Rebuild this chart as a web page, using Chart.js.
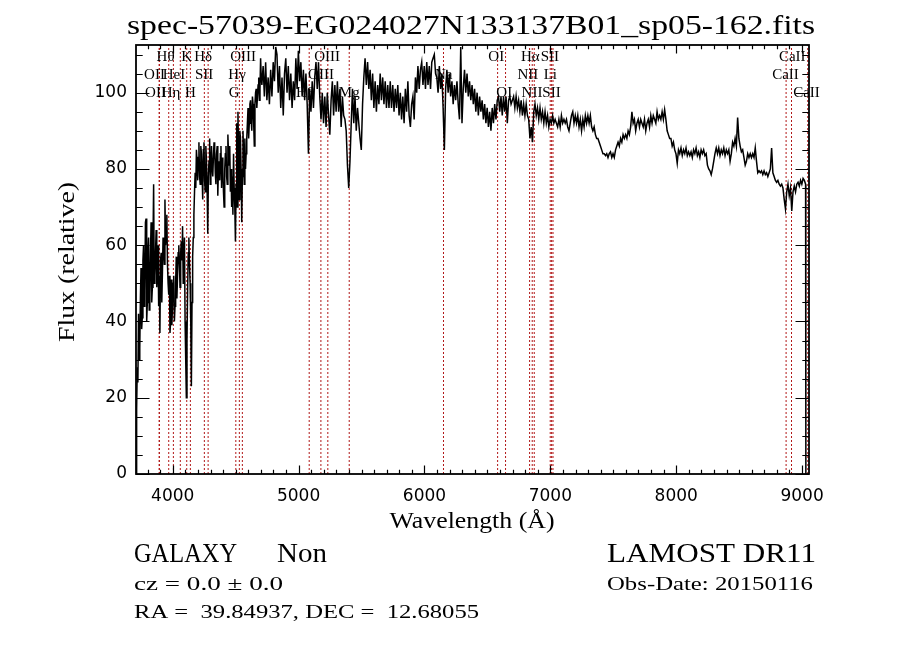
<!DOCTYPE html>
<html>
<head>
<meta charset="utf-8">
<title>spec-57039-EG024027N133137B01_sp05-162</title>
<script src="https://cdn.jsdelivr.net/npm/chart.js"></script>
<style>
  html, body { margin: 0; padding: 0; background: #fff; }
  #wrap { width: 900px; height: 649px; }
</style>
</head>
<body>
<div id="wrap"><canvas id="specChart" width="900" height="649"></canvas></div>
<script>
// wavelength grid (Angstrom): 5 A steps in the noisy blue end, 10 A after
const wavelength = [
  3708,3713,3718,3723,3728,3733,3738,3743,3748,3753,3758,3763,3768,3773,3778,3783,3788,3793,3798,3803,
  3808,3813,3818,3823,3828,3833,3838,3843,3848,3853,3858,3863,3868,3873,3878,3883,3888,3893,3898,3903,
  3908,3913,3918,3923,3928,3933,3938,3943,3948,3953,3958,3963,3968,3973,3978,3983,3988,3993,3998,4003,
  4008,4013,4018,4023,4028,4033,4038,4043,4048,4053,4058,4063,4068,4073,4078,4083,4088,4093,4098,4103,
  4108,4113,4118,4123,4128,4133,4138,4143,4148,4153,4158,4163,4168,4173,4178,4183,4188,4193,4198,4203,
  4208,4213,4218,4223,4228,4233,4238,4243,4248,4253,4258,4263,4268,4273,4278,4283,4288,4293,4298,4303,
  4308,4313,4318,4323,4328,4333,4338,4343,4348,4353,4358,4363,4368,4373,4378,4383,4388,4393,4398,4403,
  4408,4413,4418,4423,4428,4433,4438,4443,4448,4453,4458,4463,4468,4473,4478,4483,4488,4493,4498,4503,
  4508,4513,4518,4523,4528,4533,4538,4543,4548,4553,4558,4563,4568,4573,4578,4583,4588,4593,4598,4603,
  4608,4613,4618,4623,4628,4633,4638,4643,4648,4653,4658,4663,4668,4673,4678,4683,4688,4693,4698,4703,
  4708,4718,4728,4738,4748,4758,4768,4778,4788,4798,
  4808,4818,4828,4838,4848,4858,4868,4878,4888,4898,
  4908,4918,4928,4938,4948,4958,4968,4978,4988,4998,
  5008,5018,5028,5038,5048,5058,5068,5078,5088,5098,
  5108,5118,5128,5138,5148,5158,5168,5178,5188,5198,
  5208,5218,5228,5238,5248,5258,5268,5278,5288,5298,
  5308,5318,5328,5338,5348,5358,5368,5378,5388,5398,
  5408,5418,5428,5438,5448,5458,5468,5478,5488,5498,
  5508,5518,5528,5538,5548,5558,5568,5578,5588,5598,
  5608,5618,5628,5638,5648,5658,5668,5678,5688,5698,
  5708,5718,5728,5738,5748,5758,5768,5778,5788,5798,
  5808,5818,5828,5838,5848,5858,5868,5878,5888,5898,
  5908,5918,5928,5938,5948,5958,5968,5978,5988,5998,
  6008,6018,6028,6038,6048,6058,6068,6078,6088,6098,
  6108,6118,6128,6138,6148,6158,6168,6178,6188,6198,
  6208,6218,6228,6238,6248,6258,6268,6278,6288,6298,
  6308,6318,6328,6338,6348,6358,6368,6378,6388,6398,
  6408,6418,6428,6438,6448,6458,6468,6478,6488,6498,
  6508,6518,6528,6538,6548,6558,6568,6578,6588,6598,
  6608,6618,6628,6638,6648,6658,6668,6678,6688,6698,
  6708,6718,6728,6738,6748,6758,6768,6778,6788,6798,
  6808,6818,6828,6838,6848,6858,6868,6878,6888,6898,
  6908,6918,6928,6938,6948,6958,6968,6978,6988,6998,
  7008,7018,7028,7038,7048,7058,7068,7078,7088,7098,
  7108,7118,7128,7138,7148,7158,7168,7178,7188,7198,
  7208,7218,7228,7238,7248,7258,7268,7278,7288,7298,
  7308,7318,7328,7338,7348,7358,7368,7378,7388,7398,
  7408,7418,7428,7438,7448,7458,7468,7478,7488,7498,
  7508,7518,7528,7538,7548,7558,7568,7578,7588,7598,
  7608,7618,7628,7638,7648,7658,7668,7678,7688,7698,
  7708,7718,7728,7738,7748,7758,7768,7778,7788,7798,
  7808,7818,7828,7838,7848,7858,7868,7878,7888,7898,
  7908,7918,7928,7938,7948,7958,7968,7978,7988,7998,
  8008,8018,8028,8038,8048,8058,8068,8078,8088,8098,
  8108,8118,8128,8138,8148,8158,8168,8178,8188,8198,
  8208,8218,8228,8238,8248,8258,8268,8278,8288,8298,
  8308,8318,8328,8338,8348,8358,8368,8378,8388,8398,
  8408,8418,8428,8438,8448,8458,8468,8478,8488,8498,
  8508,8518,8528,8538,8548,8558,8568,8578,8588,8598,
  8608,8618,8628,8638,8648,8658,8668,8678,8688,8698,
  8708,8718,8728,8738,8748,8758,8768,8778,8788,8798,
  8808,8818,8828,8838,8848,8858,8868,8878,8888,8898,
  8908,8918,8928,8938,8948,8958,8968,8978,8988,8998,
  9008,9018,9028,9030
];

// relative flux, same order as wavelength
const flux = [
  0,17,28,24,42,30,33,46,54,38,41,56,60,44,48,66,67,40,45,58,
  62,43,47,58,66,45,49,60,76,50,52,58,64,49,53,60,44,52,37,56,
  58,45,53,62,60,55,72,60,64,68,55,50,47,52,37,40,51,39,44,50,
  52,40,44,50,57,46,52,58,60,55,49,58,61,56,65,50,57,62,40,30,
  20,35,48,58,62,55,50,40,23,45,57,62,68,74,79,75,85,82,77,83,
  87,78,76,86,84,79,72,85,87,77,74,86,82,75,63,78,82,88,76,80,
  86,80,78,83,87,85,79,76,84,86,73,80,82,77,84,86,75,83,80,74,
  70,80,84,86,78,76,89,84,81,86,74,80,70,78,68,84,75,70,61,76,
  92,70,95,84,72,90,88,80,66,78,90,84,76,88,80,84,88,92,96,88,
  92,97,98,93,90,99,97,92,86,97,100,101,96,99,102,104,98,101,109,104,
  102,107,99,108,98,104,97,106,99,108,
  103,112,110,100,107,96,104,94,105,109,
  100,107,98,105,96,103,98,109,101,111,
  103,108,99,106,98,105,97,84,101,95,
  103,96,104,108,101,108,99,93,100,92,
  99,91,100,94,89,98,103,94,102,95,
  103,95,101,91,99,94,93,90,81,75,
  82,92,101,92,99,90,96,92,88,85,
  97,104,109,102,108,101,106,98,105,96,
  103,95,102,97,105,98,104,97,103,96,
  102,96,103,96,102,95,101,96,102,94,
  100,93,99,92,101,95,103,94,91,97,
  99,93,104,100,107,101,106,108,102,107,
  101,108,102,107,101,108,109,110,105,104,
  100,107,101,105,96,85,101,106,100,105,
  99,103,97,102,98,103,97,93,112,92,
  101,106,100,105,99,103,98,102,97,101,
  95,100,94,99,95,98,93,97,92,96,
  91,95,90,96,92,97,93,98,99,95,
  99,94,99,95,99,92,98,99,97,98,
  99,96,99,96,98,95,98,94,97,94,
  97,94,93,88,91,87,95,97,94,96,
  93,96,93,95,92,95,92,94,91,93,
  92,94,92,93,92,91,93,91,94,92,
  93,92,93,91,90,92,94,95,92,94,
  92,94,91,93,90,93,91,94,92,94,
  92,94,91,90,91,89,88,88,87,86,
  85,84,84,83.5,84,83,84,84.5,83,84,
  83,85,86,87,86,88,87,89,88,89,
  88,90,89,91,95,92,93,90,92,93,
  91,93,92,91,93,90,92,93,91,94,
  92,94,93,92,95,93,94,93,95,93,
  95.5,93,90,89,88,88,86,87,85,84,
  81.5,85,84,85.5,83.5,85,84,85.5,83.5,84.5,
  83.5,84.5,83,85,84,85.5,83.5,84.5,83,85,
  84,85,83.5,84,81,80,79.5,78.5,80,82,
  84,85.5,84,85.5,83.5,85,84,85.5,83.5,85,
  84,85,82,84,87,86,88,86,93.5,88,
  86,84.5,85,83,81,82,84,83,84,83,
  84,83,85.5,82,79,79.5,79,79.5,78.5,79.5,
  78.5,79,78,79,80,85.5,79,78,77,76.5,
  77,76,75.5,76,75,72,69.5,74,76,73,
  75,69,74,75.5,74,76,76.5,75.5,77,76,
  77.5,77,76,0
];

// marked spectral lines (observed position, Angstrom)
const lineWave = [3892, 3894, 3968, 4005, 4060, 4111, 4140, 4251, 4281, 4501, 4529, 4553,
                  5084, 5177, 5232, 5402, 6151, 6581, 6644, 6835, 6856, 6872, 6999, 7010, 7021,
                  8873, 8916, 9045];

// line labels: text, centre wavelength, row (0 = top)
const labelText = ['Hθ', 'K', 'Hδ', 'OIII', 'OIII', 'OI', 'Hα', 'SII', 'CaII',
                   'OII', 'HeI', 'SII', 'Hγ', 'OIII', 'Na', 'NII', 'Li', 'CaII',
                   'OII', 'Hη', 'H', 'G', 'Hβ', 'Mg', 'OI', 'NII', 'SII', 'CaII'];
const labelWave = [3943, 4110, 4241, 4559, 5227, 6570, 6841, 6996, 8922,
                   3855, 4010, 4249, 4511, 5178, 6153, 6821, 7000, 8868,
                   3863, 3986, 4141, 4487, 5052, 5402, 6634, 6854, 7009, 9035];
const labelRow = [0, 0, 0, 0, 0, 0, 0, 0, 0,
                  1, 1, 1, 1, 1, 1, 1, 1, 1,
                  2, 2, 2, 2, 2, 2, 2, 2, 2, 2];

const xTicks = [4000, 5000, 6000, 7000, 8000, 9000];
const yTicks = [0, 20, 40, 60, 80, 100];

const fileName = 'spec-57039-EG024027N133137B01_sp05-162.fits';
const objClass = 'GALAXY';
const subClass = 'Non';
const release = 'LAMOST DR11';
const czText = 'cz = 0.0 \u00b1 0.0';
const obsDate = 'Obs-Date: 20150116';
const coordText = 'RA =  39.84937, DEC =  12.68055';

const SERIF = '"Liberation Serif", "DejaVu Serif", serif';

// draw text squeezed/stretched to a given width (Hershey-like look)
function fitText(ctx, text, x, y, width, size, align) {
  ctx.font = size + 'px ' + SERIF;
  const w = ctx.measureText(text).width;
  ctx.save();
  ctx.translate(x, y);
  ctx.scale(width / w, 1);
  ctx.textAlign = align || 'left';
  ctx.fillText(text, 0, 0);
  ctx.restore();
}

const decor = {
  id: 'decor',
  afterDatasetsDraw(chart) {
    const { ctx, chartArea: a, scales: { x, y } } = chart;
    ctx.save();
    ctx.fillStyle = '#000';
    ctx.font = '15px ' + SERIF;
    ctx.textAlign = 'center';
    ctx.textBaseline = 'alphabetic';
    const rowY = [61, 79, 97];
    labelText.forEach((t, i) => {
      ctx.fillText(t, x.getPixelForValue(labelWave[i]), rowY[labelRow[i]]);
    });

    // frame with inward ticks on all four sides
    ctx.strokeStyle = '#000';
    ctx.lineWidth = 1.8;
    ctx.strokeRect(a.left, a.top, a.right - a.left, a.bottom - a.top);
    ctx.lineWidth = 1.2;
    ctx.beginPath();
    for (let w = 3800; w <= 9000; w += 100) {
      const px = Math.round(x.getPixelForValue(w)) + 0.5;
      const len = w % 1000 === 0 ? 8.6 : 4.3;
      ctx.moveTo(px, a.bottom); ctx.lineTo(px, a.bottom - len);
      ctx.moveTo(px, a.top); ctx.lineTo(px, a.top + len);
    }
    for (let v = 0; v <= 110; v += 5) {
      const py = Math.round(y.getPixelForValue(v)) + 0.5;
      const len = v % 20 === 0 ? 13.5 : 6.7;
      ctx.moveTo(a.left, py); ctx.lineTo(a.left + len, py);
      ctx.moveTo(a.right, py); ctx.lineTo(a.right - len, py);
    }
    ctx.stroke();
    ctx.restore();
  },
  afterDraw(chart) {
    const ctx = chart.ctx;
    ctx.save();
    ctx.fillStyle = '#000';
    ctx.textBaseline = 'alphabetic';
    fitText(ctx, fileName, 471, 34, 688, 27, 'center');
    fitText(ctx, 'Wavelength (\u00c5)', 472, 528, 165, 23, 'center');
    ctx.save();
    ctx.translate(74, 262);
    ctx.rotate(-Math.PI / 2);
    fitText(ctx, 'Flux (relative)', 0, 0, 160, 23, 'center');
    ctx.restore();
    fitText(ctx, objClass, 134, 562, 103, 27);
    fitText(ctx, subClass, 277, 562, 50, 27);
    fitText(ctx, release, 607, 562, 209, 28);
    fitText(ctx, czText, 134, 590, 149, 19);
    fitText(ctx, obsDate, 607, 590, 206, 19);
    fitText(ctx, coordText, 134, 618, 345, 19);
    ctx.restore();
  }
};

const spectrum = {
  data: wavelength.map((w, i) => ({ x: w, y: flux[i] })),
  borderColor: '#000',
  borderWidth: 1.5,
  pointRadius: 0,
  tension: 0
};

const markers = lineWave.map(w => ({
  data: [{ x: w, y: 0 }, { x: w, y: 112.5 }],
  borderColor: 'rgb(178, 24, 24)',
  borderWidth: 1,
  borderDash: [2, 2],
  pointRadius: 0
}));

const tickFont = { family: '"DejaVu Sans", sans-serif', size: 17 };

new Chart(document.getElementById('specChart').getContext('2d'), {
  type: 'line',
  data: { datasets: [spectrum, ...markers] },
  options: {
    responsive: false,
    animation: false,
    devicePixelRatio: 1,
    layout: { padding: { left: 0, right: 91, top: 45, bottom: 0 } },
    plugins: { legend: { display: false }, tooltip: { enabled: false } },
    scales: {
      x: {
        type: 'linear',
        min: 3708,
        max: 9055,
        grid: { display: false, drawTicks: false },
        border: { display: false },
        ticks: { color: '#000', font: tickFont, padding: 12, maxRotation: 0, autoSkip: false, callback: v => String(v) },
        afterBuildTicks: s => { s.ticks = xTicks.map(v => ({ value: v })); },
        afterFit: s => { s.height = 175; }
      },
      y: {
        min: 0,
        max: 112.5,
        grid: { display: false, drawTicks: false },
        border: { display: false },
        ticks: { color: '#000', font: tickFont, padding: 9, callback: v => String(v) },
        afterBuildTicks: s => { s.ticks = yTicks.map(v => ({ value: v })); },
        afterFit: s => { s.width = 136; }
      }
    }
  },
  plugins: [decor]
});
</script>
</body>
</html>
